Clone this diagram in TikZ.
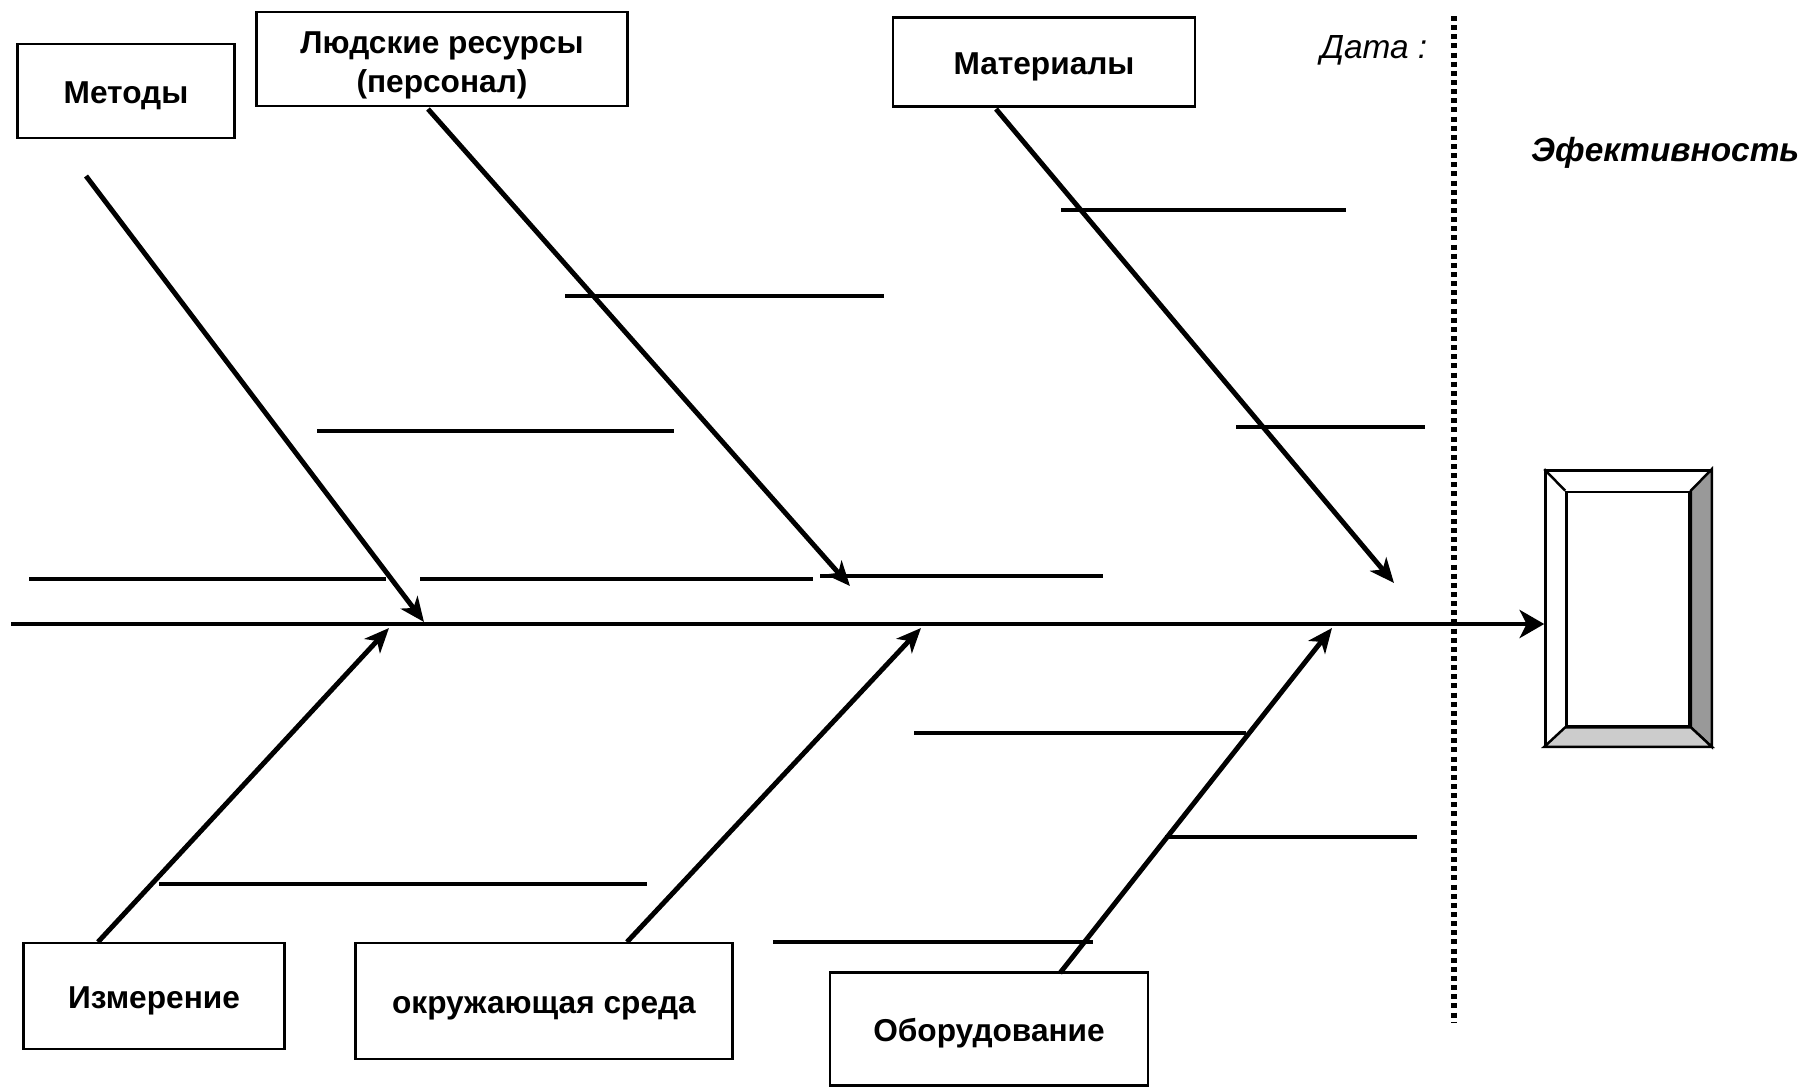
\documentclass[tikz,border=0pt]{standalone}
\usepackage{fontspec}
\setmainfont{Liberation Sans}
\usetikzlibrary{arrows.meta,positioning}

\begin{document}
\begin{tikzpicture}[
    x=0.01cm, y=-0.01cm,
    cause/.style={rectangle, draw=black, line width=0.7pt, align=center, inner sep=0pt, font=\bfseries\fontsize{9}{11}\selectfont, execute at begin node={\rule{0pt}{9pt}}},
    effectbox/.style={rectangle, draw=black, line width=0.7pt, inner sep=0pt},
    bone/.style={line width=1.4pt, -{Stealth[length=7pt, width=6pt, inset=2pt]}},
    spine/.style={line width=1.3pt, -{Stealth[length=7pt, width=8pt, inset=2pt]}},
    sub/.style={line width=0.9pt},
    datum/.style={line width=1.5pt, dash pattern=on 1.4pt off 1.2pt}
]
\useasboundingbox (0,0) rectangle (1805,1087);

% Nodes
\node (methods) [cause, minimum width=2.17cm, minimum height=0.94cm] at (126,91) {Методы};
\node (people) [cause, minimum width=3.71cm, minimum height=0.94cm] at (442,59) {\rule{0pt}{9.8pt}Людские ресурсы\\(персонал)};
\node (materials) [cause, minimum width=3.02cm, minimum height=0.89cm] at (1044,62) {Материалы};
\node (measure) [cause, minimum width=2.61cm, minimum height=1.06cm] at (154,996) {Измерение};
\node (environ) [cause, minimum width=3.77cm, minimum height=1.16cm] at (544,1001) {окружающая среда};
\node (equipment) [cause, minimum width=3.18cm, minimum height=1.13cm] at (989,1029) {Оборудование};

\node (effect) [effectbox, minimum width=1.65cm, minimum height=2.75cm] at (1628,608) {};
\node (effectin) [effectbox, minimum width=1.23cm, minimum height=2.34cm] at (1628,609) {};
\filldraw [fill=black!40, line width=0.7pt] (effect.north east) -- (effect.south east) -- (effectin.south east) -- (effectin.north east) -- cycle;
\filldraw [fill=black!20, line width=0.7pt] (effect.south west) -- (effect.south east) -- (effectin.south east) -- (effectin.south west) -- cycle;
\draw [line width=0.7pt] (effect.north west) -- (effectin.north west);

\node (date) [anchor=east, inner sep=0pt, font=\itshape\fontsize{9.5}{11}\selectfont] at (1428,50) {Дата :};
\node (result) [anchor=east, inner sep=0pt, font=\bfseries\itshape\fontsize{9.5}{11}\selectfont] at (1800,153) {Эфективность};

% Coordinates
\coordinate (tail) at (11,624);
\coordinate (dtop) at (1454,16);
\coordinate (dbot) at (1454,1023);
\coordinate (m1) at (86,176);   \coordinate (m2) at (424,622);
\coordinate (p1) at (428,109);  \coordinate (p2) at (850,586);
\coordinate (t1) at (996,109);  \coordinate (t2) at (1394,583);
\coordinate (i1) at (98,942);   \coordinate (i2) at (389,628);
\coordinate (e1) at (627,942);  \coordinate (e2) at (921,628);
\coordinate (o1) at (1060,973); \coordinate (o2) at (1332,628);

% Sub causes
\foreach \xa/\xb/\y in {29/386/579, 420/813/579, 820/1103/576, 317/674/431, 565/884/296,
                        1061/1346/210, 1236/1425/427, 914/1246/733, 1165/1417/837,
                        159/647/884, 773/1093/942}
    \draw [sub] (\xa,\y) -- (\xb,\y);

% Arrows
\draw [datum] (dtop) -- (dbot);
\draw [spine] (tail) -- (effect.west |- tail);
\draw [bone] (m1) -- (m2);
\draw [bone] (p1) -- (p2);
\draw [bone] (t1) -- (t2);
\draw [bone] (i1) -- (i2);
\draw [bone] (e1) -- (e2);
\draw [bone] (o1) -- (o2);

\end{tikzpicture}
\end{document}
